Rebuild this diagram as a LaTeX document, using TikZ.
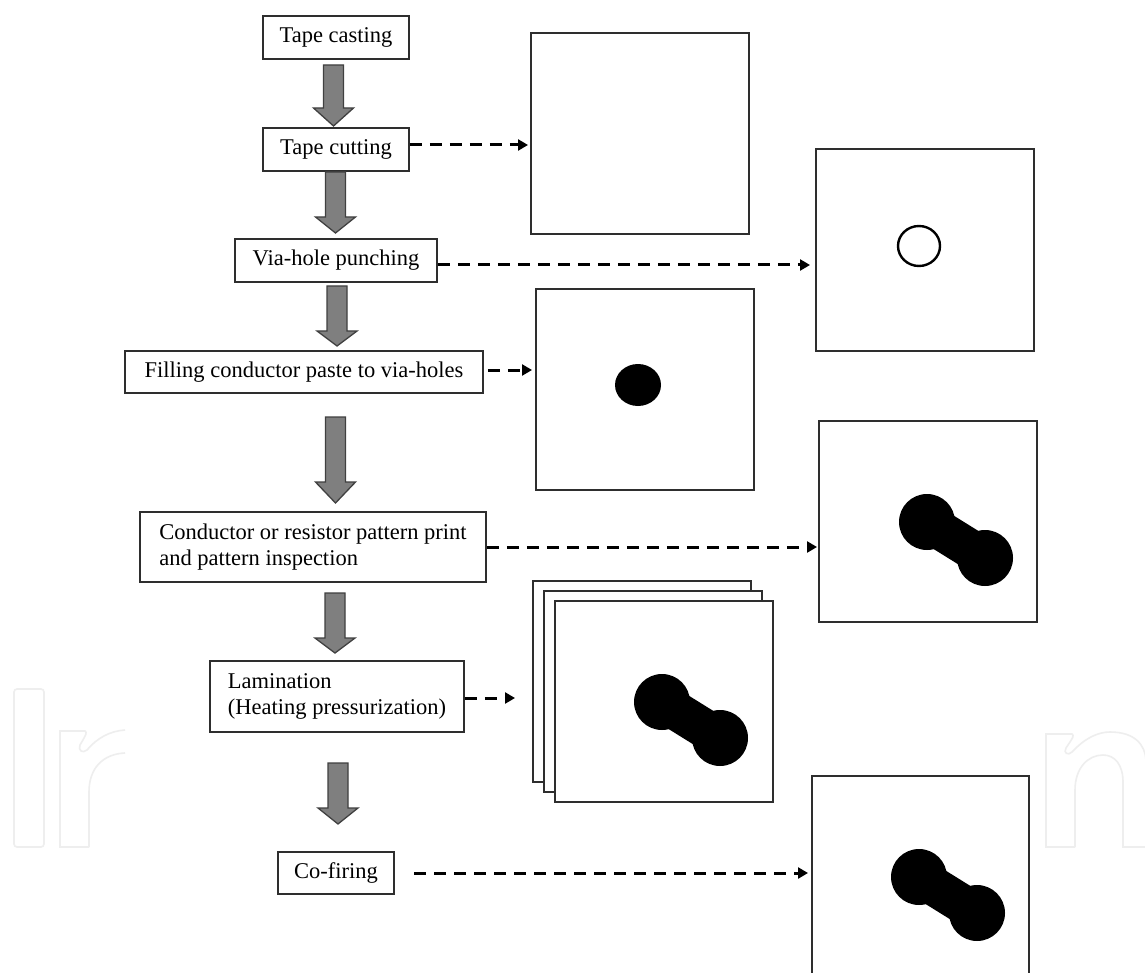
\documentclass[tikz,border=0pt]{standalone}
\usepackage{fontspec}
\setmainfont{Liberation Serif}
\usetikzlibrary{arrows.meta,calc}
\definecolor{boxline}{HTML}{2E2E2E}
\definecolor{arrfill}{HTML}{7F7F7F}
\definecolor{arrline}{HTML}{404040}
\definecolor{wmcol}{HTML}{EEEEEE}
\tikzset{
  stepbox/.style={draw=boxline, line width=1.6pt, fill=white, inner sep=0pt,
    font=\fontsize{22.5}{25.5}\selectfont, align=left},
  sheet/.style={draw=boxline, line width=2pt, fill=white, inner sep=0pt,
    minimum width=218pt, minimum height=201pt},
  dasharrow/.style={line width=3pt, dash pattern=on 12pt off 8pt,
    -{Triangle[length=10pt,width=11pt]}},
  blockarrow/.style={fill=arrfill, draw=arrline, line width=1.3pt, line join=miter},
  wm/.style={draw=wmcol, line width=1.6pt},
}
\newcommand\blockarr[3]{%
  \path[blockarrow] let \p1=(#1), \p2=(#2) in
    (\x2-10pt,\y1) -- (\x2+10pt,\y1) -- (\x2+10pt,\y2+#3pt) -- (\x2+20pt,\y2+#3pt)
    -- (\x2,\y2) -- (\x2-20pt,\y2+#3pt) -- (\x2-10pt,\y2+#3pt) -- cycle;}
\newcommand\dumbbell[1]{%
  \fill[black] (#1) circle (28pt);
  \fill[black] ($(#1)+(58,36)$) circle (28pt);
  \draw[black, line width=39pt] (#1) -- ($(#1)+(58,36)$);}
\begin{document}
\begin{tikzpicture}[x=1pt,y=-1pt]
\useasboundingbox[fill=white] (0,0) rectangle (1145,973);

% watermark
\draw[wm, rounded corners=3pt] (14,689) rectangle (44,847);
\draw[wm] (89,847) -- (60,847) -- (60,731) -- (85,731) .. controls (87,733) .. (80,745)
  .. controls (78,750) and (82,754) .. (87,750) .. controls (97,738) and (110,731) .. (125,730);
\draw[wm] (125,753) .. controls (103,754) and (89,768) .. (89,792) -- (89,847);
\draw[wm] (1075,847) -- (1046,847) -- (1046,734) -- (1072,734) .. controls (1074,736) .. (1066,748)
  .. controls (1063,753) and (1068,756) .. (1072,752) .. controls (1085,738) and (1098,732) .. (1110,732)
  .. controls (1135,732) and (1145,745) .. (1146,760);
\draw[wm] (1075,847) -- (1075,790) .. controls (1075,768) and (1088,755) .. (1103,755)
  .. controls (1115,755) and (1123,765) .. (1123,782) -- (1123,847) -- (1146,847);

% process boxes
\node[stepbox, minimum width=146pt, minimum height=43pt] (b1) at (336,37.5) {Tape casting};
\node[stepbox, minimum width=146pt, minimum height=43pt] (b2) at (336,149.5) {Tape cutting};
\node[stepbox, minimum width=202pt, minimum height=43pt] (b3) at (336,260.5) {Via-hole punching};
\node[stepbox, minimum width=358pt, minimum height=42pt] (b4) at (304,372) {Filling conductor paste to via-holes};
\node[stepbox, minimum width=346pt, minimum height=70pt] (b5) at (313,547) {Conductor or resistor pattern print\\and pattern inspection};
\node[stepbox, minimum width=254pt, minimum height=71pt] (b6) at (337,696.5) {Lamination\\(Heating pressurization)};
\node[stepbox, minimum width=116pt, minimum height=42pt] (b7) at (336,873) {Co-firing};

% block arrows
\coordinate (a1t) at (333.5,65);  \coordinate (a1e) at (333.5,126);
\coordinate (a2t) at (335.5,172); \coordinate (a2e) at (335.5,233);
\coordinate (a3t) at (337,286);   \coordinate (a3e) at (337,346);
\coordinate (a4t) at (335.5,417); \coordinate (a4e) at (335.5,503);
\coordinate (a5t) at (335,593);   \coordinate (a5e) at (335,653);
\coordinate (a6t) at (338,763);   \coordinate (a6e) at (338,824);
\blockarr{a1t}{a1e}{18}
\blockarr{a2t}{a2e}{16}
\blockarr{a3t}{a3e}{15}
\blockarr{a4t}{a4e}{21}
\blockarr{a5t}{a5e}{15}
\blockarr{a6t}{a6e}{16}

% sheets
\node[sheet] (s1) at (640,133.5) {};
\node[sheet] (s2) at (924.5,250) {};
\draw[black, line width=2.4pt] (919,246) ellipse [x radius=21, y radius=20];
\node[sheet] (s3) at (644.5,389.5) {};
\fill[black] (638,385) ellipse [x radius=23, y radius=21];
\node[sheet] (s4) at (928,521.5) {};
\dumbbell{927,522}
\node[sheet] (s6a) at (641.5,681) {};
\node[sheet] (s6b) at (652.5,691) {};
\node[sheet] (s6c) at (663.5,701.5) {};
\dumbbell{662,702}
\coordinate (s7bl) at (812,973);
\coordinate (s7br) at (1029,973);
\draw[draw=boxline, line width=2pt] (s7bl) -- (812,776) -- (1029,776) -- (s7br);
\dumbbell{919,877}

% dashed arrows
\coordinate (d1) at (528,145);
\coordinate (d2) at (810,265);
\coordinate (d3) at (532,370);
\coordinate (d4) at (817,547);
\coordinate (d5) at (515,698);
\coordinate (d6) at (808,873);
\coordinate (d6s) at (414,873);
\draw[dasharrow] (b2.east |- d1) -- (d1);
\draw[dasharrow] (b3.east |- d2) -- (d2);
\draw[dasharrow] ([xshift=4pt]b4.east |- d3) -- (d3);
\draw[dasharrow] (b5.east |- d4) -- (d4);
\draw[dasharrow] (b6.east |- d5) -- (d5);
\draw[dasharrow] (d6s) -- (d6);
\end{tikzpicture}
\end{document}
